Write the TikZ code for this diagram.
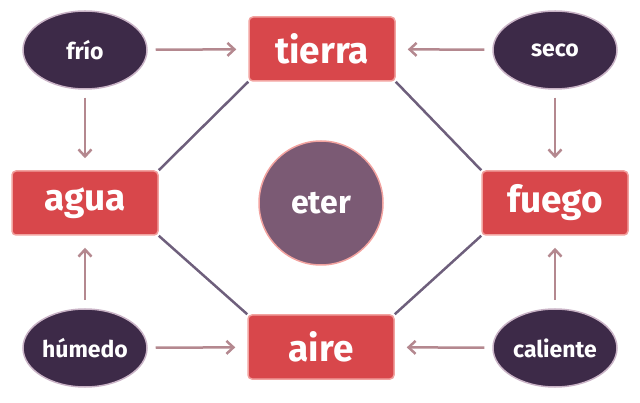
\documentclass[tikz,border=0pt]{standalone}
\usepackage{fontspec}
\setmainfont{Fira Sans}
\usetikzlibrary{arrows.meta,shapes.geometric}
\definecolor{boxred}{HTML}{D8474B}
\definecolor{boxedge}{HTML}{F2A3A0}
\definecolor{ell}{HTML}{3D2A48}
\definecolor{elledge}{HTML}{C9B3C6}
\definecolor{eterc}{HTML}{7B5A74}
\definecolor{arr}{HTML}{B4888F}
\definecolor{lin}{HTML}{6E5F7C}
\tikzset{
 elem/.style={rectangle,rounded corners=4pt,fill=boxred,draw=boxedge,line width=1.5pt,minimum width=146pt,minimum height=64pt,text=white,font=\fontsize{37}{38}\selectfont\bfseries},
 qual/.style={ellipse,fill=ell,draw=elledge,line width=1.5pt,minimum width=124pt,minimum height=78pt,inner sep=-8pt,text=white,font=\fontsize{23}{24}\selectfont\bfseries},
 arw/.style={draw=arr,line width=2.5pt,shorten <=8pt,shorten >=12pt,-{Straight Barb[length=7pt,width=13pt]}},
 ln/.style={draw=lin,line width=2.5pt}
}
\begin{document}
\begin{tikzpicture}[x=1pt,y=-1pt]
\useasboundingbox (0,0) rectangle (640,403);
\node[elem] (tierra) at (322,49) {tierra};
\node[elem] (agua) at (85,203) {agua};
\node[elem] (fuego) at (555,203) {fuego};
\node[elem] (aire) at (321,347) {aire};
\node[circle,fill=eterc,draw=boxedge,line width=1.5pt,minimum size=124pt,text=white,font=\fontsize{32}{33}\selectfont\bfseries] (eter) at (321,203) {eter};
\node[qual] (frio) at (85,50) {frío};
\node[qual] (seco) at (555,50) {seco};
\node[qual] (humedo) at (85,348) {húmedo};
\node[qual] (caliente) at (555,348) {caliente};
\draw[ln] (tierra.south west) -- (agua.north east);
\draw[ln] (tierra.south east) -- (fuego.north west);
\draw[ln] (aire.north west) -- (agua.south east);
\draw[ln] (aire.north east) -- (fuego.south west);
\draw[arw] (frio) -- (tierra);
\draw[arw] (seco) -- (tierra);
\draw[arw] (humedo) -- (aire);
\draw[arw] (caliente) -- (aire);
\draw[arw] (frio) -- (agua);
\draw[arw] (humedo) -- (agua);
\draw[arw] (seco) -- (fuego);
\draw[arw] (caliente) -- (fuego);
\end{tikzpicture}
\end{document}
